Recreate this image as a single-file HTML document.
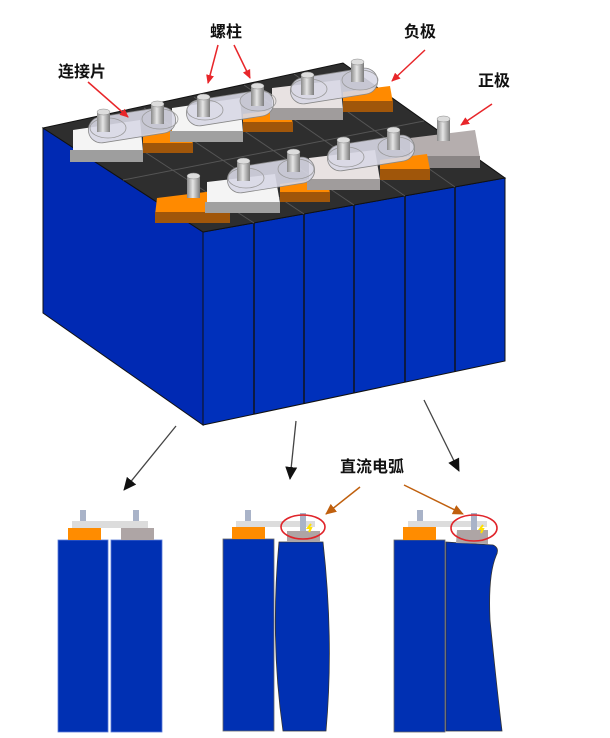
<!DOCTYPE html>
<html><head><meta charset="utf-8"><style>
html,body{margin:0;padding:0;background:#fff;}
svg{display:block;}
text{font-family:"Liberation Sans","Noto Sans CJK SC",sans-serif;font-weight:bold;font-size:16px;fill:#111;}
</style></head><body>
<svg width="610" height="738" viewBox="0 0 610 738" xmlns="http://www.w3.org/2000/svg">
<defs>
<linearGradient id="post" x1="0" x2="1"><stop offset="0" stop-color="#8a8a8a"/><stop offset="0.45" stop-color="#e6e6e6"/><stop offset="1" stop-color="#7a7a7a"/></linearGradient>
<marker id="ar" markerWidth="10" markerHeight="10" refX="8" refY="5" orient="auto" markerUnits="userSpaceOnUse"><path d="M0,1 L9,5 L0,9 Z" fill="#e8262a"/></marker>
<marker id="ab" markerWidth="14" markerHeight="14" refX="12" refY="7" orient="auto" markerUnits="userSpaceOnUse"><path d="M0,1 L13,7 L0,13 Z" fill="#111"/></marker>
<marker id="ao" markerWidth="12" markerHeight="12" refX="10" refY="6" orient="auto" markerUnits="userSpaceOnUse"><path d="M0,1 L11,6 L0,11 Z" fill="#c0600e"/></marker>
</defs>

<!-- main box -->
<polygon points="43,128 203,232 203,425 43,313" fill="#0029b3" stroke="#111" stroke-width="1"/>
<polygon points="203,232 505,178 505,361 203,425" fill="#0030bb" stroke="#111" stroke-width="1"/>
<polygon points="43,128 343,63 505,178 203,232" fill="#2e2e2e" stroke="#111" stroke-width="1"/>
<!-- front dividers -->
<g stroke="#111" stroke-width="1.4">
<line x1="254" y1="223" x2="254" y2="414"/>
<line x1="304" y1="214" x2="304" y2="404"/>
<line x1="354" y1="205" x2="354" y2="393"/>
<line x1="405" y1="196" x2="405" y2="382"/>
<line x1="455" y1="187" x2="455" y2="372"/>
</g>
<!-- top dividers -->
<g stroke="#555" stroke-width="1">
<line x1="254" y1="223" x2="94" y2="119"/>
<line x1="304" y1="214" x2="144" y2="108"/>
<line x1="354" y1="205" x2="194" y2="97"/>
<line x1="405" y1="196" x2="244" y2="85"/>
<line x1="455" y1="187" x2="294" y2="74"/>
<line x1="123" y1="180" x2="424" y2="121"/>
</g>

<!-- plates: top rect + darker bottom strip -->
<g>
<!-- row1 -->
<polygon points="73,130 140,120 143,152 73,156" fill="#f4f4f4"/><rect x="70" y="150" width="73" height="12" fill="#9e9e9e"/>
<polygon points="143,135 190,127 193,145 143,148" fill="#ff8a00"/><rect x="143" y="143" width="50" height="10" fill="#a0560a"/>
<polygon points="172,108 240,98 243,133 172,136" fill="#f4f4f4"/><rect x="170" y="131" width="73" height="11" fill="#a0a0a0"/>
<polygon points="243,114 290,108 293,125 243,127" fill="#ff8a00"/><rect x="243" y="122" width="50" height="10" fill="#a0560a"/>
<polygon points="272,88 340,80 343,110 272,112" fill="#e8e2e2"/><rect x="270" y="108" width="73" height="12" fill="#a09c9c"/>
<polygon points="343,92 390,86 393,103 343,105" fill="#ff8a00"/><rect x="343" y="101" width="50" height="11" fill="#a0560a"/>
<polygon points="410,138 475,130 480,158 410,160" fill="#b5aeae"/><rect x="407" y="156" width="73" height="12" fill="#8a8585"/>
<!-- row2 -->
<polygon points="157,198 222,190 230,213 155,215" fill="#ff8a00"/><rect x="155" y="212" width="75" height="11" fill="#a0560a"/>
<polygon points="207,182 275,174 280,203 207,205" fill="#f4f4f4"/><rect x="205" y="202" width="75" height="11" fill="#a0a0a0"/>
<polygon points="280,184 327,178 330,193 280,195" fill="#ff8a00"/><rect x="280" y="192" width="50" height="10" fill="#a0560a"/>
<polygon points="309,158 375,150 380,180 309,182" fill="#e8e2e2"/><rect x="307" y="179" width="73" height="11" fill="#a09c9c"/>
<polygon points="380,160 427,154 430,170 380,172" fill="#ff8a00"/><rect x="380" y="169" width="50" height="11" fill="#a0560a"/>
</g>

<!-- connector ovals -->
<g fill="#d8d8e6" fill-opacity="0.9" stroke="#888" stroke-width="0.8">
<rect x="88" y="112" width="88" height="26" rx="13" transform="rotate(-9 132 125)"/>
<rect x="186" y="95" width="88" height="26" rx="13" transform="rotate(-9 230 108)"/>
<rect x="290" y="73" width="88" height="26" rx="13" transform="rotate(-9 334 86)"/>
<rect x="227" y="162" width="88" height="26" rx="13" transform="rotate(-9 271 175)"/>
<rect x="327" y="140" width="88" height="26" rx="13" transform="rotate(-9 371 153)"/>
</g>
<g fill="none" stroke="#999" stroke-width="0.8">
<ellipse cx="108" cy="128" rx="18" ry="10"/><ellipse cx="160" cy="119" rx="18" ry="10"/>
<ellipse cx="205" cy="110" rx="18" ry="10"/><ellipse cx="258" cy="101" rx="18" ry="10"/>
<ellipse cx="309" cy="89" rx="18" ry="10"/><ellipse cx="360" cy="80" rx="18" ry="10"/>
<ellipse cx="246" cy="178" rx="18" ry="10"/><ellipse cx="296" cy="169" rx="18" ry="10"/>
<ellipse cx="346" cy="157" rx="18" ry="10"/><ellipse cx="396" cy="147" rx="18" ry="10"/>
</g>

<!-- posts -->
<g>
<g><rect x="97" y="112" width="13" height="20" fill="url(#post)"/><ellipse cx="103.5" cy="112" rx="6.5" ry="3" fill="#ddd" stroke="#888" stroke-width="0.5"/></g>
<g><rect x="151" y="104" width="13" height="20" fill="url(#post)"/><ellipse cx="157.5" cy="104" rx="6.5" ry="3" fill="#ddd" stroke="#888" stroke-width="0.5"/></g>
<g><rect x="197" y="97" width="13" height="20" fill="url(#post)"/><ellipse cx="203.5" cy="97" rx="6.5" ry="3" fill="#ddd" stroke="#888" stroke-width="0.5"/></g>
<g><rect x="251" y="86" width="13" height="20" fill="url(#post)"/><ellipse cx="257.5" cy="86" rx="6.5" ry="3" fill="#ddd" stroke="#888" stroke-width="0.5"/></g>
<g><rect x="301" y="75" width="13" height="20" fill="url(#post)"/><ellipse cx="307.5" cy="75" rx="6.5" ry="3" fill="#ddd" stroke="#888" stroke-width="0.5"/></g>
<g><rect x="351" y="62" width="13" height="20" fill="url(#post)"/><ellipse cx="357.5" cy="62" rx="6.5" ry="3" fill="#ddd" stroke="#888" stroke-width="0.5"/></g>
<g><rect x="437" y="119" width="13" height="22" fill="url(#post)"/><ellipse cx="443.5" cy="119" rx="6.5" ry="3" fill="#ddd" stroke="#888" stroke-width="0.5"/></g>
<g><rect x="187" y="176" width="13" height="22" fill="url(#post)"/><ellipse cx="193.5" cy="176" rx="6.5" ry="3" fill="#ddd" stroke="#888" stroke-width="0.5"/></g>
<g><rect x="237" y="161" width="13" height="20" fill="url(#post)"/><ellipse cx="243.5" cy="161" rx="6.5" ry="3" fill="#ddd" stroke="#888" stroke-width="0.5"/></g>
<g><rect x="287" y="152" width="13" height="20" fill="url(#post)"/><ellipse cx="293.5" cy="152" rx="6.5" ry="3" fill="#ddd" stroke="#888" stroke-width="0.5"/></g>
<g><rect x="337" y="140" width="13" height="20" fill="url(#post)"/><ellipse cx="343.5" cy="140" rx="6.5" ry="3" fill="#ddd" stroke="#888" stroke-width="0.5"/></g>
<g><rect x="387" y="130" width="13" height="20" fill="url(#post)"/><ellipse cx="393.5" cy="130" rx="6.5" ry="3" fill="#ddd" stroke="#888" stroke-width="0.5"/></g>
</g>

<!-- labels -->
<text x="58" y="77">连接片</text>
<text x="210" y="37">螺柱</text>
<text x="404" y="37">负极</text>
<text x="478" y="86">正极</text>
<g stroke="#e8262a" stroke-width="1.5" marker-end="url(#ar)">
<line x1="88" y1="82" x2="128" y2="117"/>
<line x1="218" y1="45" x2="208" y2="83"/>
<line x1="234" y1="45" x2="250" y2="78"/>
<line x1="425" y1="50" x2="392" y2="81"/>
<line x1="492" y1="104" x2="461" y2="125"/>
</g>

<!-- black arrows -->
<g stroke="#444" stroke-width="1.3" marker-end="url(#ab)">
<line x1="176" y1="426" x2="124" y2="490"/>
<line x1="296" y1="421" x2="290" y2="479"/>
<line x1="424" y1="400" x2="459" y2="471"/>
</g>
<text x="340" y="472">直流电弧</text>
<g stroke="#c0600e" stroke-width="1.5" marker-end="url(#ao)">
<line x1="360" y1="487" x2="326" y2="514"/>
<line x1="404" y1="485" x2="463" y2="514"/>
</g>

<!-- bottom diagram 1 -->
<rect x="58" y="540" width="50" height="192" fill="#0030b3" stroke="#5a7ad8" stroke-width="0.8"/>
<rect x="111" y="540" width="51" height="192" fill="#0030b3" stroke="#5a7ad8" stroke-width="0.8"/>
<rect x="68" y="528" width="33" height="12" fill="#ff8c00"/>
<rect x="121" y="528" width="33" height="12" fill="#aea5a5"/>
<rect x="72" y="521" width="76" height="7" fill="#dcdcdc"/>
<rect x="80" y="510" width="6" height="11" fill="#a9b3c8"/>
<rect x="133" y="510" width="6" height="11" fill="#a9b3c8"/>

<!-- bottom diagram 2 -->
<rect x="223" y="539" width="51" height="192" fill="#0030b3" stroke="#666" stroke-width="0.8"/>
<path d="M279,542 L323,542 Q334,640 326,731 L283,731 Q270,640 279,542 Z" fill="#0030b3" stroke="#333" stroke-width="0.8"/>
<rect x="232" y="527" width="33" height="12" fill="#ff8c00"/>
<rect x="287" y="531" width="33" height="11" fill="#aea5a5"/>
<rect x="236" y="521" width="79" height="6" fill="#dcdcdc"/>
<rect x="245" y="510" width="6" height="11" fill="#a9b3c8"/>
<rect x="300" y="513" width="6" height="18" fill="#a9b3c8"/>
<path d="M311,524 l-3,4 h3 l-2,4" stroke="#ffe000" stroke-width="2" fill="none"/>
<ellipse cx="303" cy="527" rx="22" ry="12" fill="none" stroke="#e0242a" stroke-width="1.6"/>

<!-- bottom diagram 3 -->
<rect x="394" y="540" width="51" height="192" fill="#0030b3" stroke="#666" stroke-width="0.8"/>
<path d="M446,542 L493,545 Q500,548 496,556 Q488,575 490,620 Q497,690 502,731 L446,731 Z" fill="#0030b3" stroke="#333" stroke-width="0.8"/>
<rect x="403" y="527" width="33" height="13" fill="#ff8c00"/>
<polygon points="457,530 488,530 488,544 456,543" fill="#aea5a5"/>
<rect x="408" y="521" width="79" height="6" fill="#dcdcdc"/>
<rect x="417" y="510" width="6" height="11" fill="#a9b3c8"/>
<rect x="471" y="513" width="6" height="17" fill="#a9b3c8"/>
<path d="M483,525 l-3,4 h3 l-2,4" stroke="#ffe000" stroke-width="2" fill="none"/>
<ellipse cx="474" cy="528" rx="23" ry="13" fill="none" stroke="#e0242a" stroke-width="1.6"/>
</svg>
</body></html>
